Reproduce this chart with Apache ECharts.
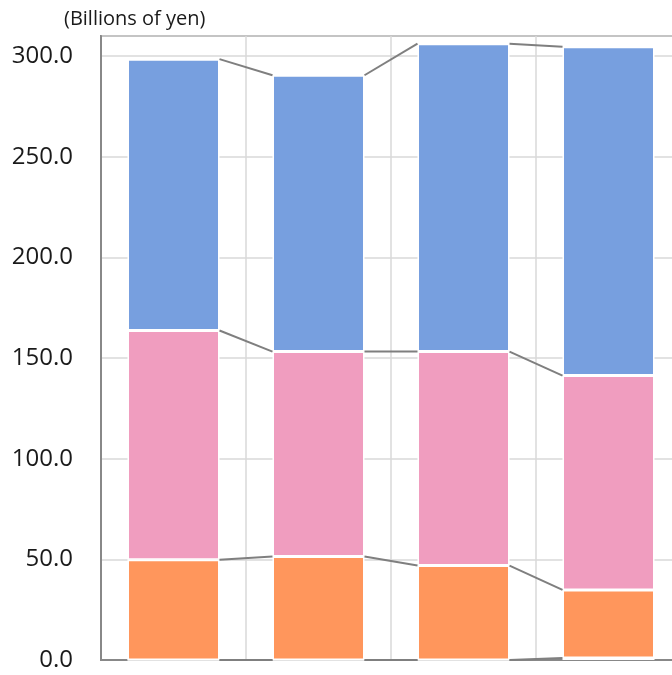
<!DOCTYPE html>
<html>
<head>
<meta charset="utf-8">
<script src="https://cdn.jsdelivr.net/npm/echarts@6/dist/echarts.min.js"></script>
<style>
  html, body { margin: 0; padding: 0; background: #fff; }
  #chart { width: 672px; height: 675px; }
</style>
</head>
<body>
<div id="chart"></div>
<script>
// Periods along the horizontal axis (labels are not shown)
const categories = ['Period 1', 'Period 2', 'Period 3', 'Period 4'];

// Stacked segments, bottom to top (billions of yen)
const segOther  = [0.0, 0.0, 0.0, 1.0];
const segOrange = [49.8, 51.4, 46.9, 33.8];
const segPink   = [113.9, 101.8, 106.3, 106.5];
const segBlue   = [134.8, 137.3, 153.0, 163.4];

const yMin = 0;
const yMax = 310;
const yStep = 50;

const stackSeries = [
  { name: 'Other',  data: segOther,  color: '#FFD98F' },
  { name: 'Orange', data: segOrange, color: '#FF965C' },
  { name: 'Pink',   data: segPink,   color: '#F09DBF' },
  { name: 'Blue',   data: segBlue,   color: '#779FDF' }
];

const BAR_W = 92;

// Running totals at the top of each stacked layer, per period
const levels = [];
{
  const run = categories.map(() => 0);
  stackSeries.forEach(s => {
    s.data.forEach((v, i) => { run[i] += v; });
    levels.push(run.slice());
  });
}

const chart = echarts.init(document.getElementById('chart'));

const series = stackSeries.map(s => ({
  name: s.name,
  type: 'bar',
  stack: 'total',
  barWidth: BAR_W,
  data: s.data,
  itemStyle: { color: s.color, borderColor: '#ffffff', borderWidth: 1.5 },
  emphasis: { disabled: true },
  z: 2
}));

// Connector lines joining each layer top between neighbouring bars
series.push({
  type: 'custom',
  name: 'connectors',
  data: categories.slice(0, -1).map((c, i) => [i]),
  renderItem: function (params, api) {
    const i = api.value(0);
    const children = levels.map(lv => {
      const a = api.coord([i, lv[i]]);
      const b = api.coord([i + 1, lv[i + 1]]);
      return {
        type: 'line',
        shape: { x1: a[0] + BAR_W / 2, y1: a[1], x2: b[0] - BAR_W / 2, y2: b[1] },
        style: { stroke: '#7F7F7F', lineWidth: 2 }
      };
    });
    return { type: 'group', children: children };
  },
  silent: true,
  z: 3
});

chart.setOption({
  animation: false,
  title: {
    text: '(Billions of yen)',
    left: 59,
    top: 4,
    textStyle: { fontFamily: 'Open Sans', fontSize: 20, fontWeight: 'normal', color: '#1a1a1a' }
  },
  grid: {
    left: 101, top: 36, width: 580, height: 624,
    outerBoundsMode: 'none',
    containLabel: false,
    show: true, borderColor: '#888', borderWidth: 2, backgroundColor: 'transparent'
  },
  xAxis: {
    type: 'category',
    data: categories,
    boundaryGap: true,
    axisLine: { show: true, lineStyle: { color: '#888', width: 2 } },
    axisTick: { show: false },
    axisLabel: { show: false },
    splitLine: { show: true, lineStyle: { color: '#D9D9D9', width: 1.5 } },
    z: 1
  },
  yAxis: {
    type: 'value',
    min: yMin,
    max: yMax,
    interval: yStep,
    axisLine: { show: true, lineStyle: { color: '#888', width: 2 } },
    axisTick: { show: false },
    axisLabel: {
      showMaxLabel: false,
      margin: 28,
      fontFamily: 'Open Sans',
      fontSize: 24,
      color: '#1a1a1a',
      formatter: v => v.toFixed(1)
    },
    splitLine: { show: true, lineStyle: { color: '#D9D9D9', width: 1.5 } },
    z: 1
  },
  series: series
});
</script>
</body>
</html>
